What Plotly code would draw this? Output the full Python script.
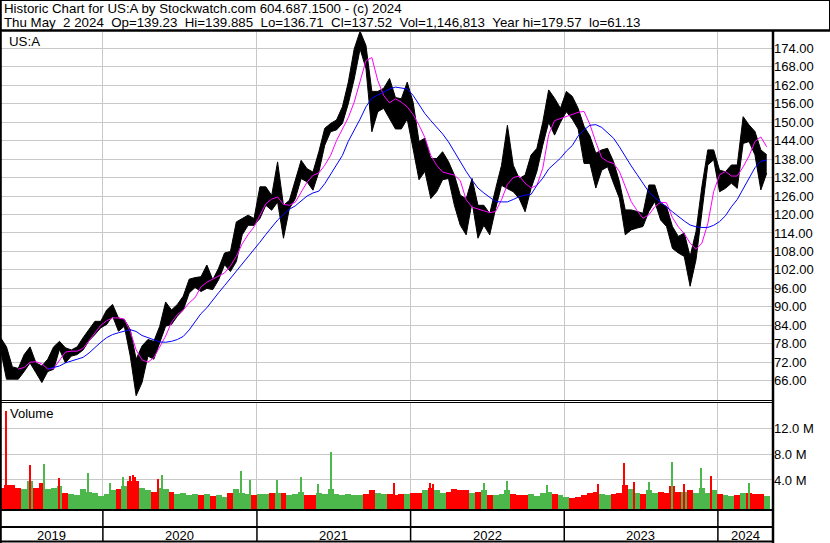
import pandas as pd
import plotly.graph_objects as go

W, H = 830, 543

# ---- data, one point every two weeks ----
dates = pd.date_range("2019-05-03", periods=131, freq="14D")

price_high = [80, 77, 70.5, 70, 74.5, 77, 71.8, 70.8, 73, 77,
              78.8, 76.7, 76, 77, 80, 82.6, 85.3, 85.3, 89, 90.8,
              86.4, 85.9, 82.6, 73, 77.3, 79.4, 78.8, 83.7, 91.6, 89,
              90.8, 93.5, 99, 99.5, 99.8, 103.6, 98.8, 102.6, 107.5, 108,
              117.6, 118.7, 119.8, 118.7, 129, 129, 126.2, 137.1, 123, 124.6,
              131.1, 137.6, 134.9, 133.8, 140.4, 148, 149.6, 150.7, 155, 163,
              173.8, 179.57, 174.9, 160, 160, 161, 164.2, 158, 157.6, 163,
              156.5, 143.7, 144.8, 138.2, 138.2, 140.4, 137.2, 132.8, 126.3, 125.1,
              131.7, 123, 123, 120.3, 128.4, 136, 149, 136, 131.7, 132.8,
              139.3, 141.5, 150, 160.5, 157.8, 154.5, 160, 158.4, 154.5, 148.7,
              145.5, 139.9, 141, 141.5, 137.2, 130.7, 121.5, 121.5, 121, 120.4,
              129.6, 129.6, 123.6, 122.6, 116.1, 112.9, 114, 106.4, 114.5, 129.1,
              141, 141, 134.4, 133.9, 136.1, 136.1, 151.8, 149.1, 147, 141,
              139.4]

price_low = [76, 66.5, 66.5, 66.5, 69, 71.8, 68.6, 65.4, 69, 69.7,
             76.2, 71.8, 74, 74.5, 76, 79, 81, 83.2, 84.3, 87,
             82.1, 83.7, 74, 61.13, 65.4, 74, 73, 78.3, 83.7, 84.3,
             87, 89, 94.5, 96.3, 95, 96, 95.6, 98.8, 103.7, 101.5,
             104.7, 113.4, 116.5, 116.5, 118.7, 123, 121.4, 124.1, 112.3, 121.9,
             125.1, 131.7, 130.6, 127.9, 133.8, 142.5, 146.9, 147.5, 149.6, 156,
             164, 173.8, 167.4, 146.9, 153.4, 154.5, 151.1, 147.8, 147.8, 151,
             141.3, 131.3, 134, 125.2, 127.4, 131.3, 131.7, 123, 116.5, 113.4,
             124.1, 112.3, 116.5, 113.4, 121.9, 129.5, 128.4, 127.4, 125.2, 120.9,
             128.4, 134, 142.5, 150, 145.8, 150, 153.4, 151, 147.8, 136.6,
             136.6, 128.6, 134.4, 135.5, 130.2, 125.3, 113.4, 115, 115.6, 116.1,
             121, 124.2, 118.2, 116.1, 109, 107.5, 106.4, 96.7, 105.3, 121,
             136.1, 137.8, 127.4, 128.5, 130.2, 128.5, 143.1, 143.7, 139.4, 128,
             133.4]

ma_fast = [None, None, None, 69.8, 70.3, 72, 72.2, 71.5, 69.8, 70,
           72.8, 75.3, 75.6, 75.6, 76.5, 79, 81.5, 84, 85.5, 86.4,
           86.4, 86, 82, 76, 72.8, 72, 73.5, 77, 80.5, 85,
           87.5, 89, 91.3, 93, 96.5, 98, 99, 100, 101, 103.3,
           106.4, 110.5, 113.5, 116, 120, 123.5, 125, 125.7, 123.3, 123,
           124, 127.5, 130.5, 132.7, 133.5, 136, 139.2, 144, 148, 151.5,
           156.5, 163, 170, 171, 163.5, 158.7, 156.3, 157.6, 156.5, 155,
           152.5, 149, 145, 139.2, 136, 133.8, 133.4, 132.8, 131, 124.8,
           122.4, 121.8, 121.3, 120.6, 121, 124.8, 129.8, 132, 132.5, 130.2,
           128.6, 129.5, 135, 146, 150.5, 151.2, 152, 152.7, 153.2, 153.5,
           149.3, 143.5, 138.5, 137.2, 136.6, 134, 129, 124.2, 121.3, 118.8,
           119.9, 122.5, 124, 123.8, 119, 116, 113.8, 110.7, 108.7, 110.7,
           117, 127.5, 132.9, 134, 132.5, 132.5, 135.5, 139, 143.7, 145.2,
           142]

ma_slow = [None, None, None, None, None, None, None, None, 69.8, 70.2,
           70.8, 71.8, 72.4, 73, 73.6, 75, 76.8, 78.5, 80, 81,
           81.6, 82.2, 82.6, 82, 80.7, 80, 79.3, 78.6, 78.5, 78.8,
           79.4, 80.4, 82.5, 85.3, 87.8, 89.7, 92.3, 94.6, 96.9, 99.2,
           101.6, 104, 106.2, 108.5, 111, 113.5, 115.8, 118.2, 120, 121.7,
           122.8, 124.5, 126, 127, 127.6, 130, 133, 135.9, 139.2, 143.8,
           147.3, 151, 155, 157.8, 158.8, 159.8, 160.8, 161.4, 161.2, 160.8,
           158.7, 155.8, 152.8, 150.5, 148.4, 146.2, 143.6, 140.3, 137.3, 134,
           131.2, 128.6, 127, 125.5, 124.2, 124.1, 124.1, 124.9, 125.8, 126.3,
           126.5, 129.5, 131.8, 134.8, 136.6, 138.3, 140.6, 142.4, 145.5, 147.5,
           149, 149.2, 148.3, 146.5, 144.8, 142, 138.8, 135.8, 133, 130.2,
           127.3, 125.5, 124.1, 122.5, 120.9, 119.3, 117.9, 116.6, 116, 115.8,
           115.8, 116.5, 117.7, 119.6, 122.5, 124.9, 128.5, 132, 135.2, 137.3,
           137.7]

# typical volume level per two-week period (millions)
volume_m = [2.8, 3.2, 3.2, 2.8, 2.6, 3.8, 2.8, 3.6, 2.6, 2.8,
            3.0, 2.0, 1.8, 1.6, 2.6, 2.2, 2.0, 1.5, 1.8, 2.4,
            2.6, 3.0, 3.8, 3.8, 2.8, 2.4, 2.2, 2.8, 2.6, 2.2,
            1.8, 2.0, 1.6, 1.8, 1.6, 1.8, 1.5, 1.6, 1.4, 2.0,
            2.6, 2.0, 1.8, 1.6, 1.8, 1.9, 2.0, 2.0, 2.0, 1.6,
            1.8, 2.2, 1.6, 1.6, 2.0, 1.8, 2.6, 1.8, 1.6, 1.8,
            1.6, 1.6, 1.8, 2.4, 2.0, 1.8, 1.8, 1.6, 1.8, 1.8,
            2.0, 2.0, 2.4, 2.8, 2.4, 2.0, 2.2, 2.6, 2.4, 2.4,
            2.0, 2.2, 2.4, 1.6, 1.6, 1.8, 2.4, 1.8, 1.6, 1.6,
            1.8, 1.5, 2.0, 2.2, 1.8, 1.6, 1.4, 1.2, 1.4, 1.6,
            2.0, 2.2, 1.8, 1.6, 1.8, 2.0, 3.2, 2.6, 2.0, 1.8,
            2.4, 2.0, 2.2, 2.0, 3.0, 2.2, 2.2, 2.4, 2.0, 2.8,
            2.0, 2.4, 1.8, 1.6, 1.5, 1.6, 2.0, 2.0, 1.8, 1.8,
            1.5]

# single high-volume days (millions) and whether the day closed up
spike_dates = ["2019-05-15", "2019-05-17", "2019-07-11", "2019-08-15", "2019-09-19", "2019-11-26",
               "2020-01-17", "2020-02-19", "2020-03-06", "2020-03-12", "2020-03-17", "2020-05-11",
               "2020-05-21", "2020-11-24", "2020-12-16", "2021-02-17", "2021-04-15", "2021-05-26",
               "2021-06-25", "2021-11-23", "2022-02-17", "2022-02-23", "2022-06-24", "2022-08-17",
               "2022-11-22", "2023-03-23", "2023-05-24", "2023-06-16", "2023-07-21", "2023-09-15",
               "2023-10-13", "2023-11-21", "2023-12-15", "2024-03-15"]
spike_volume_m = [14.7, 4.8, 6.3, 6.5, 4.3, 5.1, 3.5, 4.4, 4.6, 4.8, 4.5, 4.1,
                  4.8, 5.4, 4.0, 4.0, 4.4, 3.4, 8.3, 3.6, 3.6, 3.4, 3.5, 3.8,
                  3.2, 3.3, 6.6, 3.7, 3.7, 6.8, 3.4, 5.9, 4.6, 3.5]
spike_up = [False, False, False, True, False, True, True, True, False, False, False, False,
            True, True, True, True, True, True, True, False, False, False, True, True,
            True, False, False, False, True, True, False, True, False, True]

price_ticks = [66, 72, 78, 84, 90, 96, 102, 108, 114, 120, 126, 132, 138, 144, 150, 156, 162, 168, 174]
volume_ticks = [4e6, 8e6, 12e6]
volume_tick_text = ["4.0 M", "8.0 M", "12.0 M"]
year_starts = ["2020-01-01", "2021-01-01", "2022-01-01", "2023-01-01", "2024-01-01"]
year_labels = ["2019", "2020", "2021", "2022", "2023", "2024"]
year_label_dates = ["2019-09-01", "2020-07-02", "2021-07-02", "2022-07-02", "2023-07-02", "2024-03-06"]

SP = "\u00a0\u00a0"
title_line1 = "Historic Chart for US:A by Stockwatch.com 604.687.1500 - (c) 2024"
title_line2 = ("Thu May" + SP + "2 2024" + SP + "Op=139.23" + SP + "Hi=139.885" + SP +
               "Lo=136.71" + SP + "Cl=137.52" + SP + "Vol=1,146,813" + SP +
               "Year hi=179.57" + SP + "lo=61.13")

# ---- helpers ----
def px(xp):
    return xp / W

def py(yp):
    return 1 - yp / H

FONT = "Liberation Sans, Arial, sans-serif"
DAY = 86400000
GREEN = "#4cb84c"
RED = "#ff0000"

fig = go.Figure()

# price band: low edge then high edge filled in black
fig.add_trace(go.Scatter(x=dates, y=price_low, mode="lines", line=dict(color="black", width=1),
                         xaxis="x", yaxis="y", showlegend=False, hoverinfo="skip"))
fig.add_trace(go.Scatter(x=dates, y=price_high, mode="lines", line=dict(color="black", width=1),
                         fill="tonexty", fillcolor="black",
                         xaxis="x", yaxis="y", showlegend=False, hoverinfo="skip"))

fig.add_trace(go.Scatter(x=dates, y=ma_fast, mode="lines", line=dict(color="#ff00ff", width=1),
                         xaxis="x", yaxis="y", showlegend=False, connectgaps=False))
fig.add_trace(go.Scatter(x=dates, y=ma_slow, mode="lines", line=dict(color="#0000ff", width=1),
                         xaxis="x", yaxis="y", showlegend=False, connectgaps=False))

# volume: green when the period's mid price rose
mids = [(h + l) / 2 for h, l in zip(price_high, price_low)]
vcolors = [RED] + [GREEN if mids[i] >= mids[i - 1] else RED for i in range(1, len(mids))]
VBASE = -0.5e6
fig.add_trace(go.Bar(
    x=dates, y=[v * 1e6 - VBASE for v in volume_m], base=VBASE,
    marker=dict(color=vcolors, line=dict(width=0)), width=14 * DAY,
    xaxis="x2", yaxis="y2", showlegend=False, hoverinfo="skip"))
fig.add_trace(go.Bar(
    x=pd.to_datetime(spike_dates), y=[v * 1e6 - VBASE for v in spike_volume_m], base=VBASE,
    marker=dict(color=[GREEN if u else RED for u in spike_up], line=dict(width=0)), width=2.6 * DAY,
    xaxis="x2", yaxis="y2", showlegend=False, hoverinfo="skip"))

x_range = ["2019-05-01 14:00", "2024-05-10 22:00"]
grid = "#c8c8c8"

fig.update_layout(
    width=W, height=H, margin=dict(l=0, r=0, t=0, b=0),
    paper_bgcolor="white", plot_bgcolor="white", barmode="overlay", bargap=0,
    font=dict(family=FONT, size=13, color="black"),
    xaxis=dict(domain=[0, px(773)], range=x_range, anchor="y", type="date",
               tickvals=year_starts, showticklabels=False, ticks="",
               showgrid=True, gridcolor=grid, gridwidth=1, zeroline=False, showline=False),
    xaxis2=dict(domain=[0, px(773)], range=x_range, anchor="y2", matches="x", type="date",
                tickvals=year_starts, showticklabels=False, ticks="",
                showgrid=True, gridcolor=grid, gridwidth=1, zeroline=False, showline=False),
    yaxis=dict(domain=[py(400), py(32)], range=[59.74, 179.3], anchor="x", side="right",
               tickvals=price_ticks, ticktext=["%.2f" % t for t in price_ticks],
               ticks="", showgrid=True, gridcolor=grid, gridwidth=1, zeroline=False,
               showline=False, tickfont=dict(size=13, family=FONT, color="black")),
    yaxis2=dict(domain=[py(509), py(402)], range=[-0.5e6, 16.09e6], anchor="x2", side="right",
                tickvals=volume_ticks, ticktext=volume_tick_text,
                ticks="", showgrid=True, gridcolor=grid, gridwidth=1, zeroline=False,
                showline=False, tickfont=dict(size=13, family=FONT, color="black")),
)

shapes = []
def pline(x0, y0, x1, y1, w=1, color="black"):
    shapes.append(dict(type="line", xref="paper", yref="paper", x0=px(x0), y0=py(y0),
                       x1=px(x1), y1=py(y1), line=dict(color=color, width=w)))

pline(0, 0.5, 830, 0.5, 1)          # top of header
pline(829.5, 0, 829.5, 31, 1)       # header right
pline(0.8, 0, 0.8, 543, 2)          # left border
pline(0, 30.5, 830, 30.5, 2.5)      # header bottom
pline(773, 30, 773, 543, 2.5)       # right border of plot area
pline(0, 400.5, 773, 400.5, 1)      # double separator
pline(0, 402.5, 773, 402.5, 1)
pline(0, 510, 773, 510, 2)          # volume bottom
pline(0, 527, 773, 527, 2)          # date row separator
pline(0, 541.5, 773, 541.5, 2)      # bottom

for d in year_starts:
    shapes.append(dict(type="line", xref="x", yref="paper", x0=d, x1=d, y0=py(510), y1=py(541.5),
                       line=dict(color="black", width=1.5)))

fig.update_layout(shapes=shapes)

ann = []
ann.append(dict(xref="paper", yref="paper", x=px(2), y=py(8.5), xanchor="left", yanchor="middle",
                text=title_line1, showarrow=False, font=dict(size=13.3, family=FONT, color="black")))
ann.append(dict(xref="paper", yref="paper", x=px(2), y=py(22.5), xanchor="left", yanchor="middle",
                text=title_line2, showarrow=False, font=dict(size=13.3, family=FONT, color="black")))
ann.append(dict(xref="paper", yref="paper", x=px(6.5), y=py(41.5), xanchor="left", yanchor="middle",
                text="US:A", showarrow=False, font=dict(size=13.3, family=FONT, color="black")))
ann.append(dict(xref="paper", yref="paper", x=px(7.5), y=py(413.5), xanchor="left", yanchor="middle",
                text="Volume", showarrow=False, font=dict(size=13, family=FONT, color="black")))
for lbl, d in zip(year_labels, year_label_dates):
    ann.append(dict(xref="x", yref="paper", x=d, y=py(535), xanchor="center", yanchor="middle",
                    text=lbl, showarrow=False, font=dict(size=13, family=FONT, color="black")))
fig.update_layout(annotations=ann)

fig.write_html("out.html", config={"displayModeBar": False},
               post_script="document.body.style.margin='0';document.body.style.padding='0';"
                           "document.body.style.overflow='hidden';")
